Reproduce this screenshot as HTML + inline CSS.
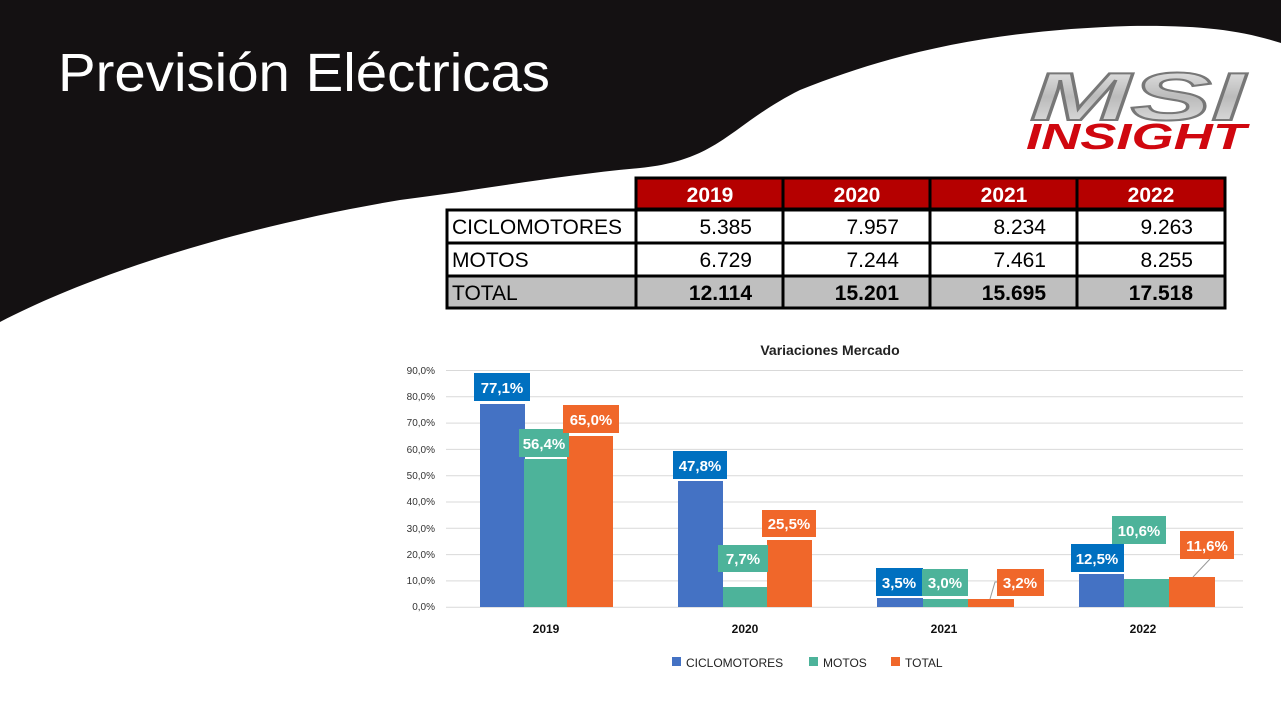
<!DOCTYPE html>
<html><head><meta charset="utf-8"><style>
html,body{margin:0;padding:0;background:#fff;}
svg{display:block;}
</style></head><body>
<svg width="1281" height="721" viewBox="0 0 1281 721" xmlns="http://www.w3.org/2000/svg" font-family="'Liberation Sans', sans-serif">
<rect width="1281" height="721" fill="#fff"/>
<path d="M0,0 H1281 V43 C1240,30 1200,25 1130,26 C1000,30 900,50 800,90 C730,125 720,160 640,168 C560,175 480,190 400,200 C250,225 100,270 0,322 Z" fill="#141112"/>
<text x="58" y="91" font-size="54" fill="#fff" textLength="492" lengthAdjust="spacingAndGlyphs">Previsión Eléctricas</text>
<!-- logo -->
<defs><linearGradient id="g" x1="0" y1="0" x2="0" y2="1"><stop offset="0" stop-color="#eee"/><stop offset="0.5" stop-color="#bbb"/><stop offset="1" stop-color="#e8e8e8"/></linearGradient></defs>
<text x="1030" y="120" font-size="68" font-weight="bold" font-style="italic" fill="url(#g)" stroke="#777" stroke-width="2" textLength="215" lengthAdjust="spacingAndGlyphs">MSI</text>
<text x="1026" y="149" font-size="36" font-weight="bold" font-style="italic" fill="#d0070f" textLength="220" lengthAdjust="spacingAndGlyphs">INSIGHT</text>
<!-- table -->
<g stroke="#000" stroke-width="3">
<rect x="636" y="178" width="589" height="31" fill="#b50000"/>
<rect x="447" y="210" width="778" height="33" fill="#fff"/>
<rect x="447" y="243" width="778" height="33" fill="#fff"/>
<rect x="447" y="276" width="778" height="32" fill="#bfbfbf"/>
<line x1="636" y1="210" x2="636" y2="308"/>
<line x1="783" y1="178" x2="783" y2="308"/>
<line x1="930" y1="178" x2="930" y2="308"/>
<line x1="1077" y1="178" x2="1077" y2="308"/>
</g>
<g font-size="21" fill="#fff" font-weight="bold" text-anchor="middle">
<text x="710" y="202">2019</text><text x="857" y="202">2020</text><text x="1004" y="202">2021</text><text x="1151" y="202">2022</text>
</g>
<g font-size="21" fill="#000">
<text x="452" y="234" textLength="170" lengthAdjust="spacingAndGlyphs">CICLOMOTORES</text><text x="452" y="267">MOTOS</text><text x="452" y="300">TOTAL</text>
</g>
<g font-size="21" fill="#000" text-anchor="end">
<text x="752" y="234">5.385</text><text x="899" y="234">7.957</text><text x="1046" y="234">8.234</text><text x="1193" y="234">9.263</text>
<text x="752" y="267">6.729</text><text x="899" y="267">7.244</text><text x="1046" y="267">7.461</text><text x="1193" y="267">8.255</text>
<g font-weight="bold"><text x="752" y="300">12.114</text><text x="899" y="300">15.201</text><text x="1046" y="300">15.695</text><text x="1193" y="300">17.518</text></g>
</g>
<!-- chart -->
<text x="830" y="355" font-size="14" font-weight="bold" fill="#222" text-anchor="middle">Variaciones Mercado</text>
<g stroke="#d9d9d9" stroke-width="1">
<line x1="446" x2="1243" y1="370.5" y2="370.5"/><line x1="446" x2="1243" y1="396.8" y2="396.8"/><line x1="446" x2="1243" y1="423.1" y2="423.1"/><line x1="446" x2="1243" y1="449.4" y2="449.4"/><line x1="446" x2="1243" y1="475.7" y2="475.7"/><line x1="446" x2="1243" y1="502" y2="502"/><line x1="446" x2="1243" y1="528.3" y2="528.3"/><line x1="446" x2="1243" y1="554.6" y2="554.6"/><line x1="446" x2="1243" y1="580.9" y2="580.9"/><line x1="446" x2="1243" y1="607.2" y2="607.2"/>
</g>
<g font-size="10" fill="#333" text-anchor="end">
<text x="435" y="374">90,0%</text><text x="435" y="400">80,0%</text><text x="435" y="426">70,0%</text><text x="435" y="453">60,0%</text><text x="435" y="479">50,0%</text><text x="435" y="505">40,0%</text><text x="435" y="532">30,0%</text><text x="435" y="558">20,0%</text><text x="435" y="584">10,0%</text><text x="435" y="610">0,0%</text>
</g>
<g>
<rect x="480" y="404" width="45" height="203" fill="#4472C4"/>
<rect x="524" y="459" width="44" height="148" fill="#4DB39A"/>
<rect x="567" y="436" width="46" height="171" fill="#F0672A"/>
<rect x="678" y="481" width="45" height="126" fill="#4472C4"/>
<rect x="723" y="587" width="44" height="20" fill="#4DB39A"/>
<rect x="767" y="540" width="45" height="67" fill="#F0672A"/>
<rect x="877" y="598" width="46" height="9" fill="#4472C4"/>
<rect x="923" y="599" width="45" height="8" fill="#4DB39A"/>
<rect x="968" y="599" width="46" height="8" fill="#F0672A"/>
<rect x="1079" y="574" width="45" height="33" fill="#4472C4"/>
<rect x="1124" y="579" width="45" height="28" fill="#4DB39A"/>
<rect x="1169" y="577" width="46" height="30" fill="#F0672A"/>
</g>
<g stroke="#999" fill="none" stroke-width="1">
<polyline points="990,599 995,582 998,582"/>
<polyline points="1193,577 1210,559"/>
</g>
<g font-size="15" font-weight="bold" fill="#fff" text-anchor="middle">
<rect x="474" y="373" width="56" height="28" fill="#0070C0"/><text x="502" y="393">77,1%</text>
<rect x="519" y="429" width="50" height="28" fill="#4DB39A"/><text x="544" y="449">56,4%</text>
<rect x="563" y="405" width="56" height="28" fill="#F0672A"/><text x="591" y="425">65,0%</text>
<rect x="673" y="451" width="54" height="28" fill="#0070C0"/><text x="700" y="471">47,8%</text>
<rect x="718" y="545" width="50" height="27" fill="#4DB39A"/><text x="743" y="564">7,7%</text>
<rect x="762" y="510" width="54" height="27" fill="#F0672A"/><text x="789" y="529">25,5%</text>
<rect x="876" y="568" width="47" height="28" fill="#0070C0"/><text x="899" y="588">3,5%</text>
<rect x="922" y="569" width="46" height="27" fill="#4DB39A"/><text x="945" y="588">3,0%</text>
<rect x="997" y="569" width="47" height="27" fill="#F0672A"/><text x="1020" y="588">3,2%</text>
<rect x="1071" y="544" width="53" height="28" fill="#0070C0"/><text x="1097" y="564">12,5%</text>
<rect x="1112" y="516" width="54" height="28" fill="#4DB39A"/><text x="1139" y="536">10,6%</text>
<rect x="1180" y="531" width="54" height="28" fill="#F0672A"/><text x="1207" y="551">11,6%</text>
</g>
<g font-size="12" font-weight="bold" fill="#111" text-anchor="middle">
<text x="546" y="633">2019</text><text x="745" y="633">2020</text><text x="944" y="633">2021</text><text x="1143" y="633">2022</text>
</g>
<g font-size="12" fill="#222">
<rect x="672" y="657" width="9" height="9" fill="#4472C4"/><text x="686" y="667">CICLOMOTORES</text>
<rect x="809" y="657" width="9" height="9" fill="#4DB39A"/><text x="823" y="667">MOTOS</text>
<rect x="891" y="657" width="9" height="9" fill="#F0672A"/><text x="905" y="667">TOTAL</text>
</g>
</svg>
</body></html>
